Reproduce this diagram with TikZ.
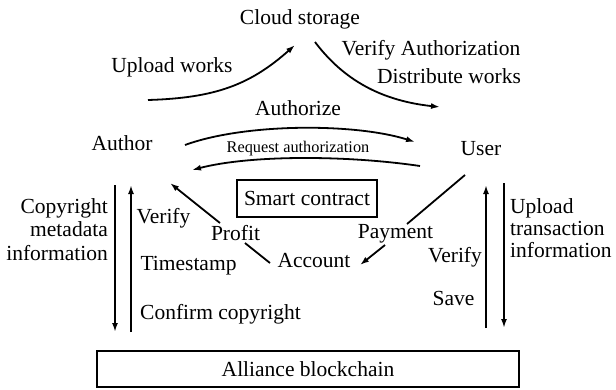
\documentclass[tikz,border=0pt]{standalone}
\usepackage{fontspec}
\setmainfont{Liberation Serif}
\usetikzlibrary{arrows.meta}
\begin{document}
\begin{tikzpicture}[x=1pt,y=-1pt,
  txt/.style={inner sep=0pt, anchor=base, font=\fontsize{21.5}{23.5}\selectfont},
  smalltxt/.style={inner sep=0pt, anchor=base, font=\fontsize{16.3}{18}\selectfont},
  conn/.style={line width=1.8pt},
  arr/.style={conn, -{Latex[length=9pt,width=6pt]}},
  boxnode/.style={draw, line width=2pt, inner sep=0pt, font=\fontsize{21.5}{23.5}\selectfont}]
\useasboundingbox (0,0) rectangle (616,389);
% texts
\node[txt] (cloud) at (300,24) {Cloud storage};
\node[txt] (uploadw) at (172,72) {Upload works};
\node[txt] (verauth) at (431,55) {Verify Authorization};
\node[txt] (distw) at (449,83) {Distribute works};
\node[txt] (authorize) at (298,115) {Authorize};
\node[txt] (author) at (122,150) {Author};
\node[txt] (user) at (481,155) {User};
\node[smalltxt] (reqauth) at (298,152) {Request authorization};
\node[boxnode, minimum width=140pt, minimum height=37pt] (smart) at (307,198.5) {Smart contract};
\node[txt, align=right, anchor=base east] (copymeta) at (108,260) {Copyright\\metadata\\information};
\node[txt] (verifyl) at (163.5,223) {Verify};
\node[txt] (timestamp) at (188.5,270) {Timestamp};
\node[txt] (confirm) at (220.5,319) {Confirm copyright};
\node[txt] (profit) at (235.5,240) {Profit};
\node[txt] (account) at (314,267) {Account};
\node[txt] (payment) at (395.5,238) {Payment};
\node[txt] (verifyr) at (455,262) {Verify};
\node[txt] (save) at (453.5,305) {Save};
\node[txt, align=left, anchor=base west, font=\fontsize{21.5}{22}\selectfont] (uploadt) at (510,257) {Upload\\transaction\\information};
\node[boxnode, minimum width=422pt, minimum height=36pt] (chain) at (308,369) {Alliance blockchain};
% connector end points
\coordinate (upS) at (148,100);
\coordinate (upE) at (295,45);
\coordinate (dsS) at (315,42);
\coordinate (dsE) at (440,107);
\coordinate (auS) at (185,145);
\coordinate (auE) at (415,142);
\coordinate (rqS) at (420,166);
\coordinate (rqE) at (192,170);
\coordinate (prS) at (220,223);
\coordinate (prE) at (170,183);
\coordinate (paS) at (245,243);
\coordinate (paE) at (270,263);
\coordinate (usS) at (465,175);
\coordinate (usE) at (407,224);
\coordinate (pyS) at (385,245);
\coordinate (pyE) at (360,265);
\coordinate (l1T) at (115,185);
\coordinate (l1B) at (115,332);
\coordinate (l2T) at (131,185);
\coordinate (l2B) at (131,332);
\coordinate (r1T) at (486,185);
\coordinate (r1B) at (486,328);
\coordinate (r2T) at (504,183);
\coordinate (r2B) at (504,328);
% connectors
\draw[arr] (upS) .. controls (215,98) and (250,85) .. (upE);
\draw[arr] (dsS) .. controls (340,75) and (375,100) .. (dsE);
\draw[arr] (auS) .. controls (245,123) and (355,123) .. (auE);
\draw[arr] (rqS) .. controls (345,155) and (250,155) .. (rqE);
\draw[arr] (prS) -- (prE);
\draw[conn] (paS) -- (paE);
\draw[conn] (usS) -- (usE);
\draw[arr] (pyS) -- (pyE);
\draw[arr] (l1T) -- (l1B);
\draw[arr] (l2B) -- (l2T);
\draw[arr] (r1B) -- (r1T);
\draw[arr] (r2T) -- (r2B);
\end{tikzpicture}
\end{document}
